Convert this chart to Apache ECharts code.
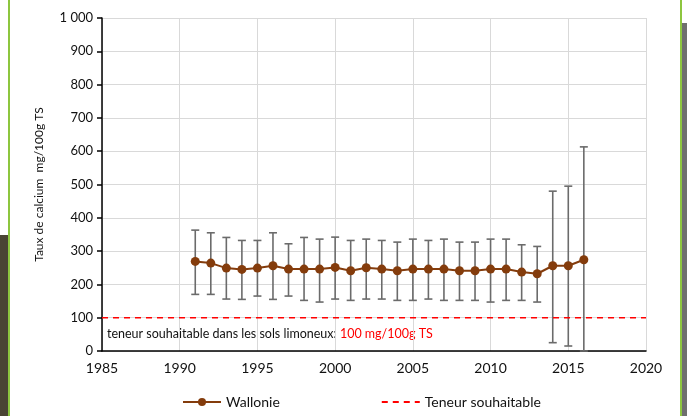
<!DOCTYPE html>
<html>
<head>
<meta charset="utf-8">
<script src="https://cdn.jsdelivr.net/npm/echarts@6/dist/echarts.min.js"></script>
<style>
html,body{margin:0;padding:0;background:#fff;}
#chart{width:687px;height:416px;}
</style>
</head>
<body>
<div id="chart"></div>
<script>
var years = [1991,1992,1993,1994,1995,1996,1997,1998,1999,2000,2001,2002,2003,2004,2005,2006,2007,2008,2009,2010,2011,2012,2013,2014,2015,2016];
var wallonie = [269,264,249,245,249,256,246,246,246,251,241,250,246,241,246,246,246,241,241,246,246,237,232,256,256,274];
var errHigh = [363,355,341,332,332,355,322,341,336,342,332,336,332,327,336,332,336,327,327,336,336,319,314,480,495,613];
var errLow  = [170,170,156,155,165,155,165,152,147,156,152,156,156,152,152,156,152,152,152,147,152,152,147,25,15,0];
var targetYears = [1985, 2020];
var targetValue = 100;

var FONT = 'Lato';
var lineData = years.map(function(y,i){return [y, wallonie[i]];});
var errData = years.map(function(y,i){return [y, errLow[i], errHigh[i]];});
var targetData = targetYears.map(function(y){return [y, targetValue];});

var chart = echarts.init(document.getElementById('chart'));
chart.setOption({
  animation:false,
  textStyle:{fontFamily:FONT},
  grid:{left:102,right:41,top:18,bottom:65},
  xAxis:{
    type:'value',min:1985,max:2020,interval:5,
    axisLine:{show:true,onZero:false,lineStyle:{color:'#000',width:1.5}},
    axisTick:{show:false},
    axisLabel:{color:'#111',fontSize:14,fontFamily:FONT,margin:10,formatter:function(v){return String(v);}},
    splitLine:{show:true,lineStyle:{color:'#d9d9d9',width:1}}
  },
  yAxis:{
    type:'value',min:0,max:1000,interval:100,
    name:'Taux de calcium  mg/100g TS',nameLocation:'middle',nameGap:57,
    nameTextStyle:{color:'#111',fontSize:12,fontFamily:FONT},
    axisLine:{show:true,lineStyle:{color:'#000',width:1.5}},
    axisTick:{show:true,length:5,lineStyle:{color:'#000',width:1.5}},
    axisLabel:{color:'#111',fontSize:13,fontFamily:FONT,margin:9,
      formatter:function(v){return v>=1000 ? String(v).replace(/(\d)(\d{3})$/,'$1 $2') : String(v);}},
    splitLine:{show:true,lineStyle:{color:'#d9d9d9',width:1}}
  },
  legend:{
    bottom:2,left:177,itemGap:101,itemWidth:38,itemHeight:10,
    textStyle:{color:'#111',fontSize:14,fontFamily:FONT},
    data:[{name:'Wallonie'},{name:'Teneur souhaitable',itemStyle:{opacity:0}}]
  },
  series:[
    {
      name:'errors',type:'custom',z:2,
      data:errData,
      renderItem:function(params,api){
        var x=api.value(0), lo=api.value(1), hi=api.value(2);
        var p1=api.coord([x,hi]), p2=api.coord([x,lo]);
        var w=4;
        var st={stroke:'#6b6b6b',lineWidth:1.6};
        return {type:'group',children:[
          {type:'line',shape:{x1:p1[0],y1:p1[1],x2:p2[0],y2:p2[1]},style:st},
          {type:'line',shape:{x1:p1[0]-w,y1:p1[1],x2:p1[0]+w,y2:p1[1]},style:st},
          {type:'line',shape:{x1:p2[0]-w,y1:p2[1],x2:p2[0]+w,y2:p2[1]},style:st}
        ]};
      }
    },
    {
      name:'Teneur souhaitable',type:'line',z:3,
      data:targetData,symbol:'none',
      lineStyle:{color:'#ff0000',width:1.5,type:[6,5]},
      itemStyle:{color:'#ff0000'}
    },
    {
      name:'Wallonie',type:'line',z:4,
      data:lineData,symbol:'circle',symbolSize:9,
      lineStyle:{color:'#843c0c',width:2},
      itemStyle:{color:'#843c0c'}
    }
  ],
  graphic:[
    {type:'rect',left:0,top:235,shape:{width:8,height:181},style:{fill:'#4a4434'}},
    {type:'rect',left:8,top:0,shape:{width:2,height:416},style:{fill:'#8dc63f'}},
    {type:'rect',left:680,top:0,shape:{width:2,height:416},style:{fill:'#8dc63f'}},
    {type:'rect',left:682,top:23,shape:{width:5,height:393},style:{fill:'#6f6f6f'}},
    {type:'text',left:107,top:327,style:{
      text:'{a|teneur souhaitable dans les sols limoneux: }{b|100 mg/100g TS}',
      rich:{a:{fill:'#111',fontSize:12.5,fontFamily:FONT},b:{fill:'#ff0000',fontSize:12.5,fontFamily:FONT}}
    }}
  ]
});
</script>
</body>
</html>
